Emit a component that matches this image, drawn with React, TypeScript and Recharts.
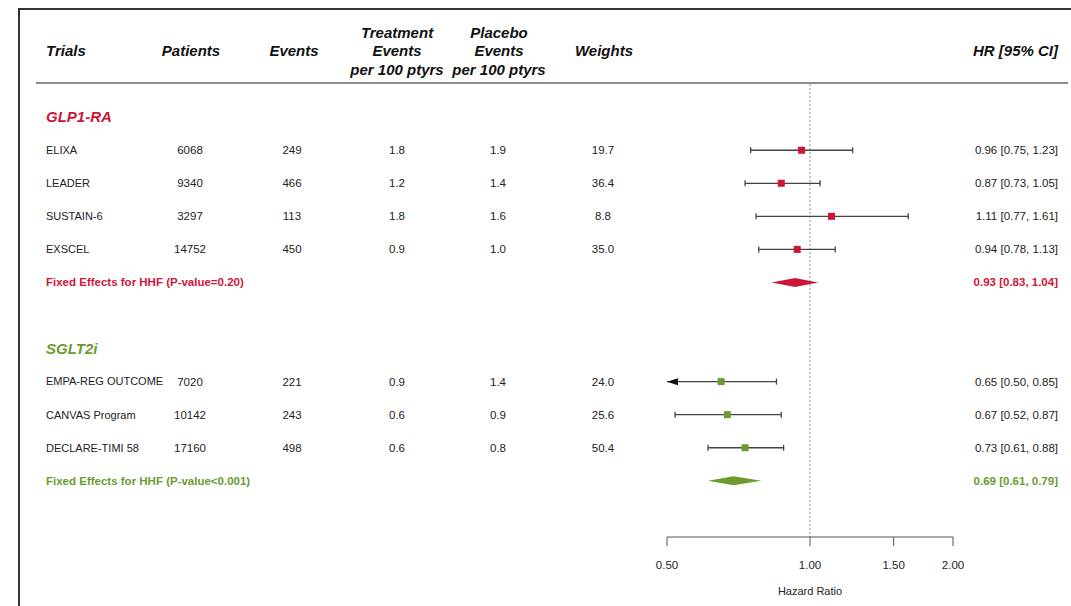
import React from 'react';
import { ComposedChart, Scatter, XAxis, YAxis, ReferenceLine, Customized } from 'recharts';

// Palette
const RED = '#CD1539';
const GREEN = '#6C9A2F';
const INK = '#222222';
const CI_STROKE = '#444444';

// Individual trials
const trialNames = ['ELIXA', 'LEADER', 'SUSTAIN-6', 'EXSCEL', 'EMPA-REG OUTCOME', 'CANVAS Program', 'DECLARE-TIMI 58'];
const trialGroups = ['GLP1-RA', 'GLP1-RA', 'GLP1-RA', 'GLP1-RA', 'SGLT2i', 'SGLT2i', 'SGLT2i'];
const trialRows = [1, 2, 3, 4, 8, 9, 10];
const patients = ['6068', '9340', '3297', '14752', '7020', '10142', '17160'];
const events = ['249', '466', '113', '450', '221', '243', '498'];
const treatmentRate = ['1.8', '1.2', '1.8', '0.9', '0.9', '0.6', '0.6'];
const placeboRate = ['1.9', '1.4', '1.6', '1.0', '1.4', '0.9', '0.8'];
const weights = ['19.7', '36.4', '8.8', '35.0', '24.0', '25.6', '50.4'];
const hr = [0.96, 0.87, 1.11, 0.94, 0.65, 0.67, 0.73];
const ciLow = [0.75, 0.73, 0.77, 0.78, 0.5, 0.52, 0.61];
const ciHigh = [1.23, 1.05, 1.61, 1.13, 0.85, 0.87, 0.88];

// Drug classes and their fixed-effect pooled estimates
const groupNames = ['GLP1-RA', 'SGLT2i'];
const groupColors = [RED, GREEN];
const groupTitleRows = [0, 7];
const pooledRows = [5, 11];
const pooledHr = [0.93, 0.69];
const pooledLow = [0.83, 0.61];
const pooledHigh = [1.04, 0.79];
const pooledPValue = ['P-value=0.20', 'P-value<0.001'];

// Axis
const X_MIN = 0.5;
const X_MAX = 2;
const xTicks = [0.5, 1, 1.5, 2];
const HEADER_ROW = -2;
const Y_DOMAIN: [number, number] = [-3, 12.7];
const NULL_LINE_TOP = -1;

// Column layout of the table part
const COL = {
  name: 46,
  patients: 190,
  events: 292,
  treatment: 397,
  placebo: 498,
  weights: 603,
  hr: 1058,
};

const fmt = (v: number) => v.toFixed(2);
const hrText = (e: number, l: number, h: number) => `${fmt(e)} [${fmt(l)}, ${fmt(h)}]`;
const colorOf = (g: string) => groupColors[groupNames.indexOf(g)];

type RowDatum = {
  x: number;
  y: number;
  kind: 'header' | 'group' | 'trial' | 'pooled';
  idx: number;
};

const tableRows: RowDatum[] = [
  { x: 1, y: HEADER_ROW, kind: 'header', idx: 0 },
  ...groupNames.map((_, i) => ({ x: 1, y: groupTitleRows[i], kind: 'group' as const, idx: i })),
  ...trialNames.map((_, i) => ({ x: hr[i], y: trialRows[i], kind: 'trial' as const, idx: i })),
  ...groupNames.map((_, i) => ({ x: pooledHr[i], y: pooledRows[i], kind: 'pooled' as const, idx: i })),
];

const squares = trialNames.map((_, i) => ({ x: hr[i], y: trialRows[i], group: trialGroups[i] }));

const ciSeries = trialNames.map((_, i) => [
  { x: ciLow[i], y: trialRows[i], end: 'lo' },
  { x: ciHigh[i], y: trialRows[i], end: 'hi' },
]);

const diamondSeries = groupNames.map((_, i) => [
  { x: pooledLow[i], y: pooledRows[i] },
  { x: pooledHr[i], y: pooledRows[i] },
  { x: pooledHigh[i], y: pooledRows[i] },
]);

const headerFont = { fontSize: 15, fontWeight: 700, fontStyle: 'italic' as const, fill: '#111' };
const bodyFont = { fontSize: 11.5, fill: INK };

const HeaderCell = ({ x, cy, lines, anchor = 'middle' }: { x: number; cy: number; lines: string[]; anchor?: string }) => {
  const step = 18.5;
  const start = cy - ((lines.length === 3 ? 1 : 0) * step);
  return (
    <text x={x} textAnchor={anchor as any} {...headerFont}>
      {lines.map((l, i) => (
        <tspan key={i} x={x} y={(lines.length === 3 ? start + i * step : cy)} dy="0.35em">
          {l}
        </tspan>
      ))}
    </text>
  );
};

const TableRowShape = (props: any) => {
  const { cy, payload } = props;
  const d: RowDatum = payload;
  if (d.kind === 'header') {
    return (
      <g>
        <HeaderCell x={46} cy={cy} lines={['Trials']} anchor="start" />
        <HeaderCell x={191} cy={cy} lines={['Patients']} />
        <HeaderCell x={294} cy={cy} lines={['Events']} />
        <HeaderCell x={397} cy={cy} lines={['Treatment', 'Events', 'per 100 ptyrs']} />
        <HeaderCell x={499} cy={cy} lines={['Placebo', 'Events', 'per 100 ptyrs']} />
        <HeaderCell x={604} cy={cy} lines={['Weights']} />
        <HeaderCell x={COL.hr} cy={cy} lines={['HR [95% CI]']} anchor="end" />
      </g>
    );
  }
  if (d.kind === 'group') {
    return (
      <text x={46} y={cy} dy="0.35em" fontSize={15} fontWeight={700} fontStyle="italic" fill={groupColors[d.idx]}>
        {groupNames[d.idx]}
      </text>
    );
  }
  if (d.kind === 'pooled') {
    const c = groupColors[d.idx];
    return (
      <g fontSize={11.5} fontWeight={700} fill={c}>
        <text x={COL.name} y={cy} dy="0.35em">{`Fixed Effects for HHF (${pooledPValue[d.idx]})`}</text>
        <text x={COL.hr} y={cy} dy="0.35em" textAnchor="end">
          {hrText(pooledHr[d.idx], pooledLow[d.idx], pooledHigh[d.idx])}
        </text>
      </g>
    );
  }
  const i = d.idx;
  return (
    <g {...bodyFont}>
      <text x={COL.name} y={cy} dy="0.35em" fontSize={11}>{trialNames[i]}</text>
      <text x={COL.patients} y={cy} dy="0.35em" textAnchor="middle">{patients[i]}</text>
      <text x={COL.events} y={cy} dy="0.35em" textAnchor="middle">{events[i]}</text>
      <text x={COL.treatment} y={cy} dy="0.35em" textAnchor="middle">{treatmentRate[i]}</text>
      <text x={COL.placebo} y={cy} dy="0.35em" textAnchor="middle">{placeboRate[i]}</text>
      <text x={COL.weights} y={cy} dy="0.35em" textAnchor="middle">{weights[i]}</text>
      <text x={COL.hr} y={cy} dy="0.35em" textAnchor="end">{hrText(hr[i], ciLow[i], ciHigh[i])}</text>
    </g>
  );
};

const SquareShape = (props: any) => {
  const { cx, cy, payload } = props;
  const s = 7;
  return <rect x={cx - s / 2} y={cy - s / 2} width={s} height={s} fill={colorOf(payload.group)} />;
};

// Whisker end: a cap, or an arrow when the interval runs past the axis limit
const CiEndShape = (props: any) => {
  const { cx, cy, payload } = props;
  if (payload.end === 'lo' && payload.x <= X_MIN) {
    return <polygon points={`${cx},${cy} ${cx + 11},${cy - 3.5} ${cx + 11},${cy + 3.5}`} fill="#111" />;
  }
  return <line x1={cx} x2={cx} y1={cy - 3} y2={cy + 3} stroke={CI_STROKE} strokeWidth={1.3} />;
};

const makeDiamond = (color: string) => (lineProps: any) => {
  const pts = lineProps.points;
  if (!pts || pts.length < 3) return <g />;
  const h = 4.5;
  const [a, m, b] = pts;
  return (
    <polygon
      points={`${a.x},${a.y} ${m.x},${m.y - h} ${b.x},${b.y} ${m.x},${m.y + h}`}
      fill={color}
      stroke="none"
    />
  );
};

const Frame = () => (
  <g>
    <line x1={19} y1={9} x2={1071} y2={9} stroke="#333" strokeWidth={2} />
    <line x1={19} y1={8} x2={19} y2={606} stroke="#333" strokeWidth={2} />
    <line x1={36} y1={83} x2={1068} y2={83} stroke="#666" strokeWidth={1.4} />
  </g>
);

const Empty = () => <g />;

export default function App() {
  return (
    <div style={{ position: 'absolute', left: 0, top: 0, width: 1071, height: 606, background: '#fff' }}>
      <ComposedChart
        width={1071}
        height={606}
        margin={{ top: 18, right: 118, bottom: 9, left: 667 }}
        style={{ fontFamily: '"Liberation Sans", Arial, sans-serif' }}
      >
        <XAxis
          type="number"
          dataKey="x"
          scale="log"
          domain={[X_MIN, X_MAX]}
          ticks={xTicks}
          interval={0}
          tickFormatter={fmt}
          tickSize={9}
          tickMargin={15}
          height={60}
          stroke="#555"
          tick={{ fill: INK, fontSize: 11.5 }}
          label={{ value: 'Hazard Ratio', position: 'insideBottom', offset: 2, fontSize: 11, fill: INK }}
        />
        <YAxis type="number" dataKey="y" domain={Y_DOMAIN} reversed hide />
        <Customized component={Frame} />
        <ReferenceLine
          segment={[{ x: 1, y: NULL_LINE_TOP }, { x: 1, y: Y_DOMAIN[1] }]}
          stroke="#888"
          strokeDasharray="2 2"
          strokeWidth={1}
        />
        <Scatter data={tableRows} shape={TableRowShape} isAnimationActive={false} />
        {ciSeries.map((pts, i) => (
          <Scatter
            key={trialNames[i]}
            data={pts}
            line={{ stroke: CI_STROKE, strokeWidth: 1.3 }}
            lineJointType="linear"
            shape={CiEndShape}
            isAnimationActive={false}
          />
        ))}
        {diamondSeries.map((pts, i) => (
          <Scatter
            key={groupNames[i]}
            data={pts}
            line={makeDiamond(groupColors[i])}
            shape={Empty}
            isAnimationActive={false}
          />
        ))}
        <Scatter data={squares} shape={SquareShape} isAnimationActive={false} />
      </ComposedChart>
    </div>
  );
}
